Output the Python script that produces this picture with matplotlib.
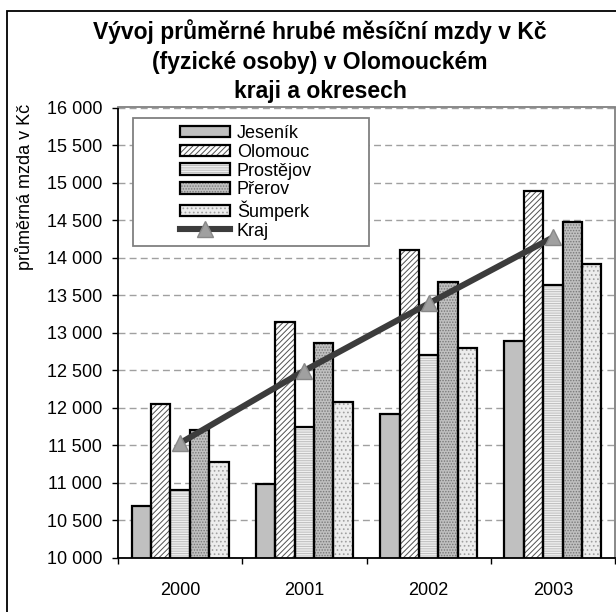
import matplotlib
matplotlib.use("Agg")
import matplotlib.pyplot as plt
import numpy as np
from matplotlib.patches import Patch, Rectangle
from matplotlib.lines import Line2D
from matplotlib.legend_handler import HandlerTuple
from matplotlib.ticker import FuncFormatter

# ---- data ----
years = ["2000", "2001", "2002", "2003"]
districts = ["Jeseník", "Olomouc", "Prostějov", "Přerov", "Šumperk"]
jesenik = [10690, 10985, 11920, 12895]
olomouc = [12050, 13140, 14100, 14890]
prostejov = [10910, 11750, 12710, 13640]
prerov = [11705, 12870, 13670, 14470]
sumperk = [11280, 12075, 12795, 13915]
kraj = [11530, 12495, 13390, 14270]
title_lines = ["Vývoj průměrné hrubé měsíční mzdy v Kč",
               "(fyzické osoby) v Olomouckém",
               "kraji a okresech"]
ylabel = "průměrná mzda v Kč"
kraj_label = "Kraj"

series = [jesenik, olomouc, prostejov, prerov, sumperk]
# face colour, hatch, hatch colour
styles = [
    ("#c0c0c0", "", "#c0c0c0"),
    ("#ffffff", "//////", "#505050"),
    ("#efefef", "-------", "#bdbdbd"),
    ("#c0c0c0", "......", "#787878"),
    ("#ededed", "....", "#a0a0a0"),
]

plt.rcParams["font.family"] = ["Liberation Sans", "DejaVu Sans"]
plt.rcParams["hatch.linewidth"] = 0.7

W, H = 616, 612
fig = plt.figure(figsize=(W / 100, H / 100), dpi=100)

def fx(px):
    return px / W

def fy(py):
    return 1 - py / H

ax_l, ax_r, ax_t, ax_b = 118, 615, 107.5, 558
ax = fig.add_axes([fx(ax_l), fy(ax_b), fx(ax_r - ax_l), (ax_b - ax_t) / H])

x = np.arange(len(years))
nb = len(series)
bw = 0.78 / nb
for i, (vals, (fc, hatch, hc)) in enumerate(zip(series, styles)):
    pos = x - 0.39 + bw * (i + 0.5)
    ax.bar(pos, vals, width=bw, color=fc, hatch=hatch, edgecolor=hc,
           linewidth=0, zorder=2)
    ax.bar(pos, vals, width=bw, fill=False, edgecolor="black",
           linewidth=1.6, zorder=2.5)

ax.plot(x, kraj, color="#3c3c3c", linewidth=4.4, marker="^",
        markersize=11, markerfacecolor="#a0a0a0", markeredgecolor="#888888",
        markeredgewidth=1.0, zorder=3, solid_capstyle="butt")

ax.set_xlim(-0.5, len(years) - 0.5)
ax.set_ylim(10000, 16000)
ax.set_yticks(np.arange(10000, 16001, 500))
ax.yaxis.set_major_formatter(FuncFormatter(lambda v, p: f"{int(v):,}".replace(",", " ")))
ax.set_xticks(x)
ax.set_xticklabels(years)
ax.set_xticks(np.arange(-0.5, len(years), 1.0), minor=True)
ax.tick_params(axis="x", which="major", length=0, pad=17, labelsize=13)
ax.tick_params(axis="x", which="minor", length=4.5, width=1.0, direction="out")
ax.tick_params(axis="y", length=4.5, width=1.0, direction="out", pad=7, labelsize=13)

ax.yaxis.grid(True, color="#a0a0a0", linestyle=(0, (5, 3)), linewidth=1.0, zorder=0)
ax.set_axisbelow(True)
for s in ["left", "bottom"]:
    ax.spines[s].set_color("black")
    ax.spines[s].set_linewidth(1.3)
for s in ["top", "right"]:
    ax.spines[s].set_color("#808080")
    ax.spines[s].set_linewidth(1.3)

# titles / labels
for line, py in zip(title_lines, [31.7, 62.5, 91.7]):
    fig.text(fx(320), fy(py), line, ha="center", va="center",
             fontsize=16.5, fontweight="bold")
fig.text(fx(25), fy(187), ylabel, rotation=90, ha="center", va="center",
         fontsize=13)

# outer frame
fig.patches.append(Rectangle((fx(7), fy(640)), fx(700), (640 - 11) / H,
                             transform=fig.transFigure, fill=False,
                             edgecolor="black", linewidth=1.3, zorder=0))

# legend frame
ax.add_patch(Rectangle((fx(132.7), fy(245.7)), fx(368.7 - 132.7), (245.7 - 117.7) / H,
                       transform=fig.transFigure, facecolor="white",
                       edgecolor="#808080", linewidth=1.3, zorder=4,
                       clip_on=False))

handles = []
for fc, hatch, hc in styles:
    handles.append((Patch(facecolor=fc, hatch=hatch, edgecolor=hc, linewidth=0),
                    Patch(fill=False, edgecolor="black", linewidth=1.6)))
handles.append(Line2D([], [], color="#3c3c3c", linewidth=4.4, marker="^",
                      markersize=11, markerfacecolor="#a0a0a0",
                      markeredgecolor="#888888"))
labels = districts + [kraj_label]
leg = ax.legend(handles, labels, handler_map={tuple: HandlerTuple(ndivide=1)},
                loc="upper left", bbox_to_anchor=(fx(180), fy(125)),
                bbox_transform=fig.transFigure, frameon=False, fontsize=13,
                borderpad=0, borderaxespad=0, labelspacing=0.1,
                handlelength=2.78, handleheight=0.62, handletextpad=0.37)
leg.set_zorder(5)

fig.savefig("out.png", dpi=100)
